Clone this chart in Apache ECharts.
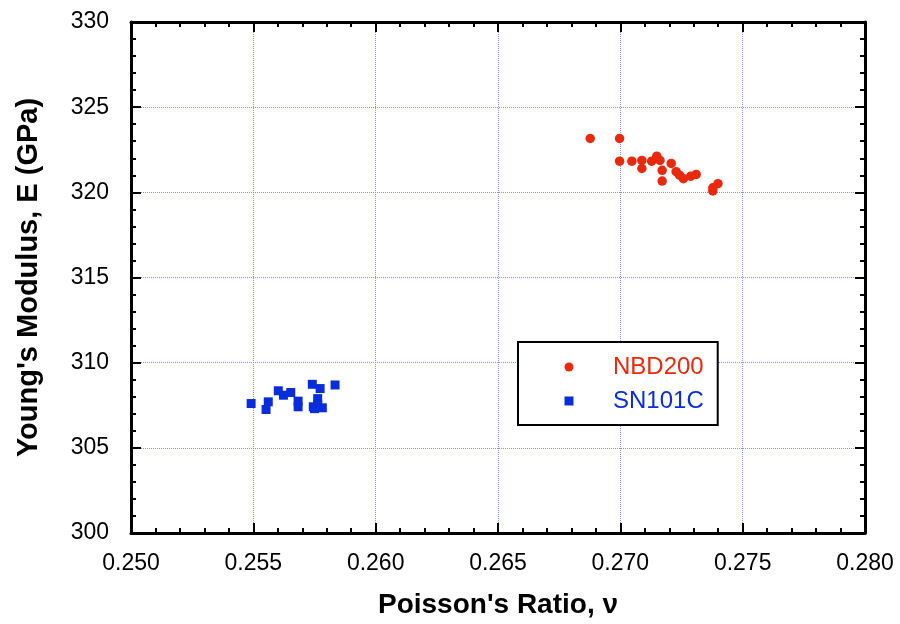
<!DOCTYPE html>
<html>
<head>
<meta charset="utf-8">
<script src="https://cdn.jsdelivr.net/npm/echarts@6/dist/echarts.min.js"></script>
<style>
	html, body { margin: 0; padding: 0; background: #fff; }
	#chart { width: 900px; height: 624px; }
</style>
</head>
<body>
<div id="chart"></div>
<script>
// values
const nbd200 = [
	[0.26877, 323.16], [0.26997, 323.16], [0.26997, 321.83], [0.27047, 321.83],
	[0.27088, 321.87], [0.27088, 321.40], [0.27128, 321.83], [0.27149, 322.12],
	[0.27162, 321.87], [0.27171, 321.29], [0.27171, 320.66], [0.27208, 321.70],
	[0.27228, 321.21], [0.27242, 321.01], [0.27258, 320.80], [0.27288, 320.95],
	[0.27310, 321.05], [0.27378, 320.27], [0.27378, 320.08], [0.27399, 320.51]
];
const sn101c = [
	[0.25491, 307.60], [0.25561, 307.70], [0.25552, 307.25], [0.25602, 308.35],
	[0.25623, 308.09], [0.25653, 308.25], [0.25683, 307.74], [0.25683, 307.41],
	[0.25741, 308.73], [0.25773, 308.48], [0.25763, 307.89], [0.25763, 307.56],
	[0.25745, 307.41], [0.25782, 307.35], [0.25750, 307.30], [0.25834, 308.69]
];
const seriesNames = ['NBD200', 'SN101C'];
const seriesColors = ['#e8290c', '#0a2ddc'];

const fontFam = 'Liberation Sans, Arial, sans-serif';
const gridColor = '#8391e6';

let myChart = echarts.init(document.getElementById('chart'));

function frameAxis(pos, isX, showLabels) {
	let ax = {
		type: 'value',
		position: pos,
		min: isX ? 0.25 : 300,
		max: isX ? 0.28 : 330,
		interval: isX ? 0.005 : 5,
		axisLine: { show: true, onZero: false, lineStyle: { color: '#000', width: 3 } },
		axisTick: { show: true, inside: true, length: 10, lineStyle: { color: '#000', width: 2 } },
		minorTick: { show: true, splitNumber: 5, length: 5, lineStyle: { color: '#000', width: 2 } },
		splitLine: { show: false },
		axisLabel: { show: false }
	};
	if (showLabels) {
		ax.axisLabel = {
			show: true,
			color: '#000',
			fontFamily: fontFam,
			fontSize: 23,
			margin: isX ? 19 : 22,
			formatter: isX ? (v) => v.toFixed(3) : (v) => v.toFixed(0)
		};
		ax.splitLine = { show: true, lineStyle: { color: gridColor, type: 'dotted', width: 1 } };
	}
	return ax;
}

let xMain = frameAxis('bottom', true, true);
xMain.name = "Poisson's Ratio, \u03bd";
xMain.nameLocation = 'middle';
xMain.nameGap = 58;
xMain.nameTextStyle = { color: '#000', fontFamily: fontFam, fontSize: 28, fontWeight: 'bold' };

let yMain = frameAxis('left', false, true);
yMain.name = "Young's Modulus, E (GPa)";
yMain.nameLocation = 'middle';
yMain.nameGap = 88;
yMain.nameTextStyle = { color: '#000', fontFamily: fontFam, fontSize: 29, fontWeight: 'bold' };

// square icon padded so the legend text sits to the right like in the picture
const squareIcon = 'path://M0,0h0.01M78,0h0.01M34.5,0h9v9h-9z';

let option = {
	animation: false,
	backgroundColor: '#fff',
	grid: { left: 131, right: 35, top: 22, bottom: 89 },
	xAxis: [xMain, frameAxis('top', true, false)],
	yAxis: [yMain, frameAxis('right', false, false)],
	legend: {
		orient: 'vertical',
		left: 518,
		top: 342,
		padding: [13, 14, 12, 12],
		itemWidth: 78,
		itemHeight: 9,
		itemGap: 10,
		borderColor: '#000',
		borderWidth: 2,
		backgroundColor: '#fff',
		data: [
			{ name: seriesNames[0], icon: 'circle', textStyle: { color: seriesColors[0] } },
			{ name: seriesNames[1], icon: squareIcon, textStyle: { color: seriesColors[1] } }
		],
		textStyle: { fontFamily: fontFam, fontSize: 24, lineHeight: 24 }
	},
	series: [
		{
			name: seriesNames[0],
			type: 'scatter',
			symbol: 'circle',
			symbolSize: 9.5,
			itemStyle: { color: seriesColors[0], opacity: 1 },
			data: nbd200
		},
		{
			name: seriesNames[1],
			type: 'scatter',
			symbol: 'rect',
			symbolSize: 9,
			itemStyle: { color: seriesColors[1], opacity: 1 },
			data: sn101c
		}
	]
};
option && myChart.setOption(option);
</script>
</body>
</html>
